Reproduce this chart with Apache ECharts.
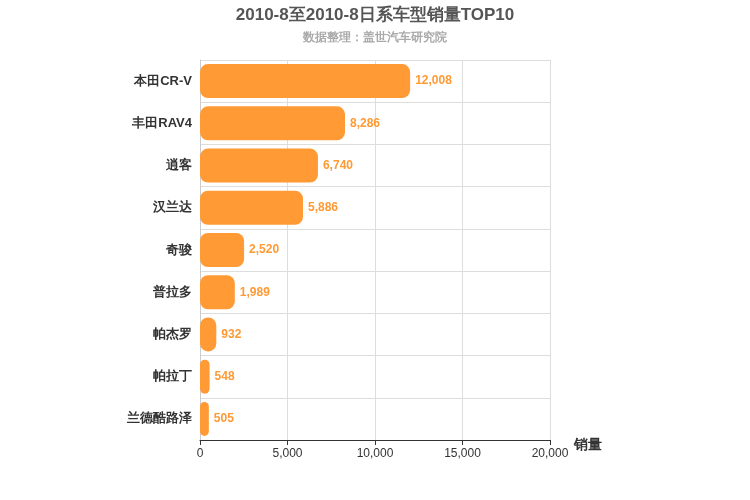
<!DOCTYPE html>
<html><head><meta charset="utf-8">
<script src="https://cdn.jsdelivr.net/npm/echarts@6/dist/echarts.min.js"></script>
<style>html,body{margin:0;padding:0;background:#fff}#c{width:750px;height:500px}</style>
</head><body><div id="c"></div>
<script>
const categories = ['本田CR-V','丰田RAV4','逍客','汉兰达','奇骏','普拉多','帕杰罗','帕拉丁','兰德酷路泽'];
const sales = [12008,8286,6740,5886,2520,1989,932,548,505];
const chart = echarts.init(document.getElementById('c'));
chart.setOption({
  animation:false,
  title:{text:'2010-8至2010-8日系车型销量TOP10',subtext:'数据整理：盖世汽车研究院',left:'center',top:2,itemGap:8,
    textStyle:{fontSize:17,fontWeight:'bold',color:'#555',fontFamily:'Arial, sans-serif'},
    subtextStyle:{fontSize:12,fontWeight:'bold',color:'#aaa'}},
  grid:{left:200,right:200,top:60,bottom:60},
  xAxis:{type:'value',min:0,max:20000,interval:5000,name:'销量',nameLocation:'end',nameGap:15,
    nameTextStyle:{fontSize:14,fontWeight:'bold',color:'#333',verticalAlign:'bottom',padding:[0,0,-12,0]},
    axisLine:{show:true,lineStyle:{color:'#333'}},axisTick:{show:true},
    axisLabel:{color:'#333',fontSize:12},splitLine:{lineStyle:{color:'#ddd'}}},
  yAxis:{type:'category',data:categories,inverse:true,
    axisLine:{lineStyle:{color:'#ccc'}},axisTick:{show:false},
    axisLabel:{color:'#333',fontSize:13,fontWeight:'bold'},splitLine:{show:true,lineStyle:{color:'#ddd'}}},
  series:[{type:'bar',data:sales,barWidth:34,
    itemStyle:{color:'#FF9A35',borderRadius:8},
    label:{show:true,position:'right',color:'#FF9A35',fontSize:12,fontWeight:'bold',
      formatter:p=>p.value.toLocaleString('en-US')}}]
});
</script></body></html>
